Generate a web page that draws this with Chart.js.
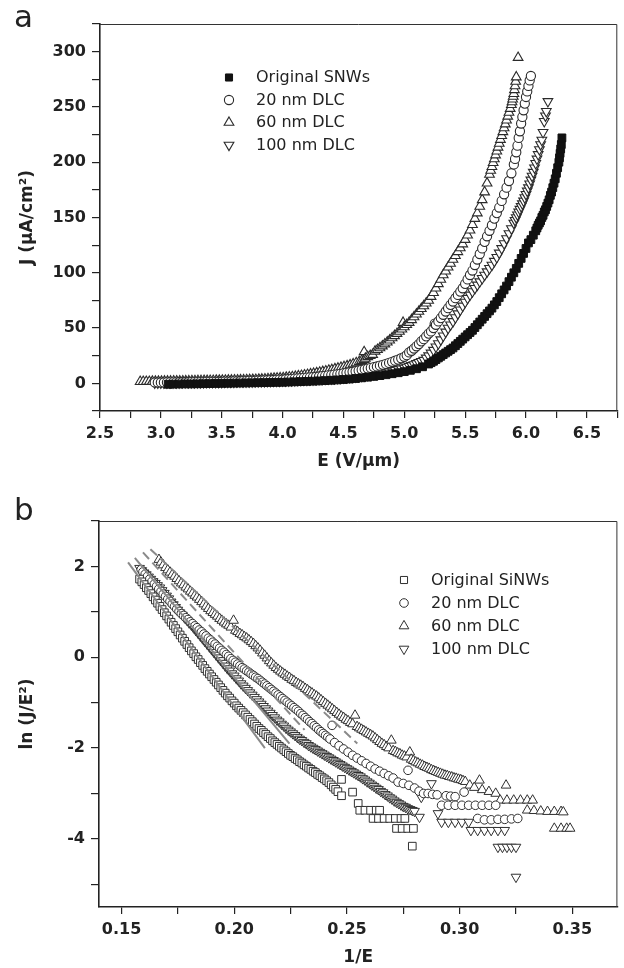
<!DOCTYPE html>
<html><head><meta charset="utf-8">
<script src="https://cdn.jsdelivr.net/npm/chart.js@4.4.1/dist/chart.umd.min.js"></script>
<style>
html,body{margin:0;padding:0;background:#fff;}
#wrap{position:relative;width:624px;height:968px;overflow:hidden;background:#fff;}
.panel{position:absolute;left:0;width:624px;height:484px;}
.lbl{position:absolute;font-family:"DejaVu Sans",sans-serif;font-size:31px;color:#222;line-height:1;}
</style></head><body>
<div id="wrap">
<div class="panel" style="top:0"><canvas id="ca" width="624" height="484"></canvas></div>
<div class="panel" style="top:484px"><canvas id="cb" width="624" height="484"></canvas></div>
<div class="lbl" style="left:14px;top:1px">a</div>
<div class="lbl" style="left:14px;top:494px">b</div>
</div>
<script>
// ================= Panel a : J (uA/cm2) vs E (V/um) =================
const seriesLabelsA = ['Original SNWs', '20 nm DLC', '60 nm DLC', '100 nm DLC'];

const aOrigE = [3.06,3.10,3.15,3.20,3.25,3.30,3.35,3.40,3.45,3.50,3.55,3.60,3.65,3.70,3.75,3.80,3.85,3.90,3.95,4.00,
  4.05,4.10,4.15,4.20,4.25,4.30,4.35,4.40,4.45,4.50,4.55,4.60,4.65,4.70,4.75,4.80,4.85,4.90,4.95,5.00,5.05,5.10,5.15,5.20,
  5.22,5.24,5.26,5.28,5.30,5.32,5.34,5.36,5.38,5.40,5.42,5.44,5.46,5.48,5.50,5.52,5.54,5.56,5.58,5.60,5.62,5.64,
  5.66,5.68,5.70,5.72,5.74,5.76,5.78,5.80,5.82,5.84,5.86,5.88,5.90,5.92,5.94,5.96,5.98,6.00,6.02,6.04,6.06,6.08,
  6.09,
  6.10,6.11,6.12,6.13,6.14,6.15,6.16,6.17,6.18,6.19,6.20,6.21,6.22,6.23,6.24,6.25,6.26,6.27,
  6.275,6.28,6.285,6.29,6.295];
const aOrigJ = [-0.8,-0.7,-0.6,-0.5,-0.5,-0.4,-0.3,-0.2,-0.1,0.0,0.1,0.2,0.3,0.4,0.5,0.6,0.7,0.8,0.9,1.0,
  1.2,1.4,1.6,1.8,2.0,2.2,2.5,2.8,3.1,3.5,3.9,4.4,5.0,5.6,6.3,7.0,7.8,8.7,9.6,10.6,11.8,13.2,15.0,17.5,
  18.7,20,21.5,23,24.5,26,27.5,29,30.5,32,34,36,38,40,42,44,46,48,50.5,53,55.5,58,
  60.5,63,65.5,68,71,74,77.5,81,84.5,88,92,96,100,104,108.5,113,117.5,122,127,130,134,138,
  140.5,
  143,145,147,150,152,155,157,160,163,166,170,173,177,181,185,190,195,200,
  204,208,212,216,222];

const a20E = [2.950,2.975,3.000,3.025,3.050,3.075,3.100,3.125,3.150,3.175,3.200,3.225,3.250,3.275,3.300,3.325,3.350,
  3.375,3.400,3.425,3.450,3.475,3.500,3.525,3.550,3.575,3.600,3.625,3.650,3.675,3.700,3.725,3.750,3.775,3.800,3.825,
  3.850,3.875,3.900,3.925,3.950,3.975,4.000,4.025,4.050,4.075,4.100,4.125,4.150,4.175,4.200,4.225,4.250,4.275,4.300,
  4.325,4.350,4.375,4.400,4.425,4.450,4.475,4.500,4.525,4.550,4.575,4.600,4.625,4.650,4.675,4.700,4.725,4.750,4.775,
  4.800,4.825,4.850,4.875,4.900,4.925,4.950,4.975,5.000,
  5.02,5.04,5.06,5.08,5.10,5.12,5.14,5.16,5.18,5.20,5.22,5.24,
  5.25,
  5.26,5.28,5.30,5.32,5.34,5.36,5.38,5.40,5.42,5.44,5.46,5.48,5.50,5.52,5.54,5.56,5.58,5.60,5.62,5.64,5.66,5.68,5.70,
  5.72,5.74,5.76,5.78,5.80,5.82,5.84,5.86,5.88,
  5.90,5.91,5.92,5.93,5.94,5.95,5.96,5.97,5.98,5.99,6.00,6.01,6.02,6.03,6.04];
const a20J = [0.8,0.8,0.8,0.8,0.9,0.9,0.9,0.9,1.0,1.0,1.0,1.0,1.1,1.1,1.2,1.2,1.2,
  1.3,1.3,1.4,1.4,1.5,1.5,1.6,1.6,1.7,1.8,1.8,1.9,2.0,2.1,2.2,2.3,2.4,2.5,2.6,
  2.7,2.8,3.0,3.1,3.2,3.4,3.5,3.7,3.9,4.1,4.3,4.5,4.7,5.0,5.2,5.5,5.7,6.0,6.2,
  6.5,6.8,7.2,7.5,7.9,8.2,8.6,9.0,9.5,10.0,10.5,11.0,11.6,12.2,12.8,13.4,14.0,14.7,15.3,
  16.0,16.8,17.6,18.5,19.5,20.5,21.5,22.7,24,
  25.5,28,29.5,31.5,33.5,35.5,38,40,42.5,45,47,50,
  54,
  53,56,59,62,65,68,71,74,77,80,83,86,90,94,98,102,107,112,117,122,128,133,138,
  143,149,154,159,165,171,177,183,190,
  198,203,209,215,222,228,235,241,247,253,259,264,269,274,278];

const a60E = [2.830,2.855,2.880,2.905,2.930,2.955,2.980,3.005,3.030,3.055,3.080,3.105,3.130,3.155,3.180,3.205,3.230,
  3.255,3.280,3.305,3.330,3.355,3.380,3.405,3.430,3.455,3.480,3.505,3.530,3.555,3.580,3.605,3.630,3.655,3.680,3.705,
  3.730,3.755,3.780,3.805,3.830,3.855,3.880,3.905,3.930,3.955,3.980,4.005,4.030,4.055,4.080,4.105,4.130,4.155,4.180,
  4.205,4.230,4.255,4.280,4.305,4.330,4.355,4.380,4.405,4.430,4.455,4.480,4.505,4.530,4.555,4.580,4.605,4.630,
  4.65,4.67,4.67,4.68,4.70,4.72,4.74,4.76,4.78,4.80,4.82,4.84,4.86,4.88,4.90,4.92,4.94,4.96,4.98,4.99,
  5.00,5.02,5.04,5.06,5.08,5.10,5.12,5.14,5.16,5.18,5.20,5.22,5.24,5.26,5.28,5.30,5.32,5.34,5.36,5.38,
  5.40,5.42,5.44,5.46,5.48,5.50,5.52,5.54,5.56,5.58,5.60,5.62,5.64,5.66,5.68,5.70,
  5.71,5.72,5.73,5.74,5.75,5.76,5.77,5.78,5.79,5.80,5.81,5.82,5.83,5.84,5.85,5.86,5.87,5.88,
  5.885,5.89,5.895,5.90,5.905,5.91,5.915,5.92,5.935];
const a60J = [1.5,1.5,1.6,1.6,1.7,1.7,1.8,1.8,1.9,1.9,1.9,2.0,2.0,2.0,2.0,2.1,2.1,
  2.2,2.2,2.3,2.3,2.4,2.4,2.5,2.5,2.6,2.6,2.7,2.7,2.8,2.8,2.9,2.9,3.0,3.0,3.1,
  3.2,3.3,3.4,3.5,3.7,3.8,4.0,4.2,4.4,4.6,4.8,5.0,5.3,5.6,5.9,6.2,6.6,7.0,7.4,
  7.9,8.4,8.9,9.4,9.9,10.5,11.1,11.7,12.3,13.0,13.6,14.3,15.0,15.7,16.6,17.5,18.5,19.5,
  20.5,21.5,28.5,22.5,24,25,26,29,30.5,32,33.7,35.5,37.2,39,41,43,45,47,49,55,
  51,53,55,57.5,60,62.5,65,67.5,70,72.5,75,78.5,82,86,90,94,98,101.5,105,108.5,
  112,115.5,119,122.5,126,130,134,138.5,143.5,149,154,160,166,173,181,189,
  192.5,196,199.5,203,206.5,210,213.5,217,220.5,224,227.5,231,234.5,238,241.5,245,248.5,252,
  254.5,257,259.5,262,265.5,269,273,277,294.6];

const a100E = [2.950,2.975,3.000,3.025,3.050,3.075,3.100,3.125,3.150,3.175,3.200,3.225,3.250,3.275,3.300,3.325,3.350,
  3.375,3.400,3.425,3.450,3.475,3.500,3.525,3.550,3.575,3.600,3.625,3.650,3.675,3.700,3.725,3.750,3.775,3.800,3.825,
  3.850,3.875,3.900,3.925,3.950,3.975,4.000,4.025,4.050,4.075,4.100,4.125,4.150,4.175,4.200,4.225,4.250,4.275,4.300,
  4.325,4.350,4.375,4.400,4.425,4.450,4.475,4.500,4.525,4.550,4.575,4.600,4.625,4.650,4.675,4.700,4.725,4.750,4.775,
  4.800,4.825,4.850,4.875,4.900,4.925,4.950,4.975,5.000,
  5.02,5.04,5.06,5.08,5.10,5.12,5.14,5.16,5.18,5.20,5.22,5.24,5.26,5.28,5.30,5.32,5.34,5.36,5.38,5.40,5.42,5.44,
  5.46,5.48,5.50,5.52,5.54,5.56,5.58,5.60,5.62,5.64,5.66,5.68,5.70,5.72,5.74,5.76,5.78,5.80,5.82,5.84,5.86,5.88,
  5.90,5.91,5.92,5.93,5.94,5.95,5.96,5.97,5.98,5.99,6.00,6.01,6.02,6.03,6.04,6.05,6.06,6.07,6.08,6.09,6.10,6.11,
  6.12,6.13,6.14,6.15,6.16,6.167,6.18];
const a100J = [0.5,0.5,0.5,0.5,0.5,0.6,0.6,0.6,0.6,0.7,0.7,0.7,0.7,0.8,0.8,0.8,0.8,
  0.9,0.9,1.0,1.0,1.0,1.0,1.1,1.1,1.2,1.2,1.3,1.3,1.4,1.4,1.5,1.5,1.6,1.6,1.7,
  1.7,1.8,1.9,2.0,2.0,2.1,2.2,2.3,2.4,2.5,2.6,2.7,2.8,2.9,3.0,3.2,3.3,3.5,3.6,
  3.8,3.9,4.1,4.2,4.4,4.6,4.8,5.0,5.3,5.5,5.8,6.0,6.3,6.6,7.0,7.3,7.6,8.0,8.5,
  9.0,9.5,10.0,10.6,11.2,11.9,12.6,13.3,14,
  14.7,15.5,16.2,17,18,19,20,21,23,25,27.5,30,33,36,39.5,43,46.5,50,53,56,59.5,63,
  66.5,70,73.5,77,80,83,86,89,92,95,98,101,104,107,110.5,114,118,122,126.5,131,135.5,140,
  145,147.5,150,152.5,155,157.5,160,162.5,165,168,171,174,177,180.5,184,187.5,191,195,199,203,207,211.5,
  216,220,227,237,242,246,255];

// ================= Panel b : ln(J/E^2) vs 1/E =================
const seriesLabelsB = ['Original SiNWs', '20 nm DLC', '60 nm DLC', '100 nm DLC'];

const bOrigX = [0.158,0.159,0.160,0.161,0.162,0.163,0.164,0.165,0.166,0.167,0.168,0.169,0.170,0.171,0.172,0.173,0.174,
  0.175,0.176,0.177,0.178,0.179,0.180,0.181,0.182,0.183,0.184,0.185,0.186,0.187,0.188,0.189,0.190,0.191,0.192,0.193,
  0.194,0.195,0.196,0.197,0.198,0.199,0.200,0.201,0.202,0.203,0.204,0.205,0.206,0.207,0.208,0.209,0.210,0.211,0.212,
  0.213,0.214,0.215,0.216,0.217,0.218,0.219,0.220,0.221,0.222,0.223,0.224,0.225,0.226,0.227,0.228,0.229,0.230,0.231,
  0.232,0.233,0.234,0.235,0.236,0.237,0.238,0.239,0.240,0.241,0.242,0.243,0.244,0.245,0.246,
  0.2476,0.2476,0.2525,0.255,0.2557,0.258,0.2605,0.263,0.2645,0.2616,0.264,0.2665,0.269,0.2715,0.274,0.2757,
  0.272,0.2745,0.277,0.2795,0.279];
const bOrigY = [1.72,1.66,1.60,1.53,1.47,1.40,1.33,1.26,1.19,1.12,1.05,0.98,0.91,0.84,0.77,0.70,0.63,
  0.56,0.49,0.42,0.35,0.28,0.21,0.14,0.08,0.01,-0.05,-0.12,-0.18,-0.25,-0.31,-0.37,-0.43,-0.49,-0.55,-0.61,
  -0.67,-0.73,-0.79,-0.85,-0.90,-0.96,-1.01,-1.07,-1.12,-1.17,-1.22,-1.27,-1.32,-1.37,-1.42,-1.47,-1.52,-1.57,-1.61,
  -1.66,-1.70,-1.75,-1.79,-1.84,-1.88,-1.92,-1.96,-2.00,-2.04,-2.08,-2.12,-2.16,-2.19,-2.23,-2.26,-2.30,-2.33,-2.37,
  -2.40,-2.44,-2.47,-2.51,-2.54,-2.58,-2.61,-2.65,-2.68,-2.72,-2.76,-2.81,-2.86,-2.91,-2.96,
  -3.05,-2.69,-2.97,-3.22,-3.37,-3.37,-3.37,-3.37,-3.37,-3.55,-3.55,-3.55,-3.55,-3.55,-3.55,-3.55,
  -3.77,-3.77,-3.77,-3.77,-4.16];

const b20X = [0.1587,
  0.1595,0.1605,0.1615,0.1625,0.1635,0.1645,0.1655,0.1665,0.1675,0.1685,0.1695,0.1705,0.1715,0.1725,0.1735,0.1745,
  0.1755,0.1765,0.1775,0.1785,0.1795,0.1805,0.1815,0.1825,0.1835,0.1845,0.1855,0.1865,0.1875,0.1885,0.1895,0.1905,
  0.1915,0.1925,0.1935,0.1945,0.1955,0.1965,0.1975,0.1985,0.1995,0.2005,0.2015,0.2025,0.2035,0.2045,0.2055,0.2065,
  0.2075,0.2085,0.2095,0.2105,0.2115,0.2125,0.2135,0.2145,0.2155,0.2165,0.2175,0.2185,0.2195,0.2205,0.2215,0.2225,
  0.2235,0.2245,0.2255,0.2265,0.2275,0.2285,0.2295,0.2305,0.2315,0.2325,0.2335,0.2345,0.2355,0.2365,0.2375,0.2385,
  0.2395,0.2405,0.2415,0.2425,
  0.2434,
  0.2445,0.2465,0.2485,0.2505,0.2525,0.2545,0.2565,0.2585,0.2605,0.2625,0.2645,0.2665,0.2685,0.2705,
  0.2727,0.2750,0.2771,0.2775,0.2800,0.2820,0.2840,0.2860,0.2880,0.2900,0.2940,0.2960,0.2980,
  0.2920,0.2950,0.2980,0.3020,0.3010,0.3040,0.3070,0.3100,0.3130,0.3160,
  0.3080,0.3110,0.3140,0.3170,0.3200,0.3230,0.3258];
const b20Y = [1.93,
  1.88,1.83,1.78,1.72,1.67,1.61,1.56,1.50,1.45,1.39,1.34,1.28,1.23,1.17,1.12,1.06,
  1.01,0.96,0.92,0.87,0.83,0.78,0.74,0.69,0.65,0.60,0.56,0.51,0.47,0.42,0.38,0.33,
  0.29,0.24,0.20,0.15,0.11,0.06,0.02,-0.03,-0.07,-0.11,-0.15,-0.19,-0.23,-0.26,-0.30,-0.33,
  -0.37,-0.40,-0.44,-0.47,-0.51,-0.55,-0.59,-0.63,-0.67,-0.71,-0.75,-0.79,-0.83,-0.87,-0.91,-0.95,
  -0.99,-1.03,-1.07,-1.11,-1.15,-1.19,-1.24,-1.28,-1.33,-1.37,-1.42,-1.46,-1.51,-1.55,-1.60,-1.64,
  -1.68,-1.72,-1.76,-1.80,
  -1.50,
  -1.88,-1.95,-2.02,-2.09,-2.16,-2.22,-2.28,-2.34,-2.40,-2.46,-2.51,-2.56,-2.61,-2.66,
  -2.75,-2.78,-2.49,-2.82,-2.88,-2.95,-3.00,-3.00,-3.02,-3.03,-3.05,-3.06,-3.07,
  -3.26,-3.26,-3.26,-2.97,-3.26,-3.26,-3.26,-3.26,-3.26,-3.26,
  -3.55,-3.58,-3.58,-3.57,-3.57,-3.56,-3.55];

const b60X = [0.1666,
  0.1675,0.1685,0.1695,0.1705,0.1715,0.1725,0.1735,0.1745,0.1755,0.1765,0.1775,0.1785,0.1795,0.1805,0.1815,0.1825,
  0.1835,0.1845,0.1855,0.1865,0.1875,0.1885,0.1895,0.1905,0.1915,0.1925,0.1935,0.1945,0.1955,0.1965,0.1975,0.1985,
  0.1997,
  0.2005,0.2015,0.2025,0.2035,0.2045,0.2055,0.2065,0.2075,0.2085,0.2095,0.2105,0.2115,0.2125,0.2135,0.2145,0.2155,
  0.2165,0.2175,0.2185,0.2195,0.2205,0.2215,0.2225,0.2235,0.2245,0.2255,0.2265,0.2275,0.2285,0.2295,0.2305,0.2315,
  0.2325,0.2335,0.2345,0.2355,0.2365,0.2375,0.2385,0.2395,0.2405,0.2415,0.2425,0.2435,0.2445,0.2455,0.2465,0.2475,
  0.2485,0.2495,0.2505,0.2515,0.2525,
  0.2536,
  0.2545,0.2555,0.2565,0.2575,0.2585,0.2595,0.2605,0.2615,0.2625,0.2635,0.2645,0.2655,0.2665,0.2675,0.2685,
  0.2697,
  0.2705,0.2715,0.2725,0.2735,0.2745,0.2755,0.2765,
  0.2779,
  0.2785,0.2795,0.2805,0.2815,0.2825,0.2835,0.2845,0.2855,0.2865,0.2875,0.2885,0.2895,0.2905,0.2915,0.2925,0.2935,
  0.2945,0.2955,0.2965,0.2975,0.2985,0.2995,0.3005,0.3015,0.3025,
  0.3045,0.3065,0.3088,0.3100,0.3130,0.3160,0.3206,0.3180,0.3210,0.3240,0.3270,0.3300,0.3324,
  0.3300,0.3330,0.3360,0.3390,0.3420,0.3450,0.3460,0.3420,0.3450,0.3475,0.3490];
const b60Y = [2.15,
  2.09,2.03,1.97,1.92,1.87,1.82,1.78,1.73,1.68,1.63,1.59,1.54,1.50,1.45,1.41,1.36,
  1.32,1.27,1.22,1.17,1.12,1.07,1.02,0.98,0.94,0.90,0.85,0.81,0.77,0.73,0.70,0.66,
  0.81,
  0.59,0.56,0.52,0.49,0.45,0.42,0.38,0.34,0.30,0.25,0.20,0.15,0.09,0.04,-0.02,-0.08,
  -0.13,-0.18,-0.23,-0.27,-0.31,-0.35,-0.38,-0.42,-0.45,-0.49,-0.52,-0.56,-0.59,-0.62,-0.65,-0.69,
  -0.72,-0.76,-0.79,-0.83,-0.86,-0.90,-0.94,-0.98,-1.02,-1.06,-1.10,-1.14,-1.18,-1.22,-1.26,-1.30,
  -1.33,-1.37,-1.40,-1.44,-1.47,
  -1.28,
  -1.53,-1.56,-1.59,-1.62,-1.65,-1.68,-1.71,-1.74,-1.78,-1.82,-1.86,-1.90,-1.93,-1.97,-2.00,
  -1.83,
  -2.06,-2.08,-2.11,-2.13,-2.16,-2.18,-2.20,
  -2.09,
  -2.25,-2.28,-2.31,-2.33,-2.36,-2.38,-2.41,-2.43,-2.45,-2.48,-2.50,-2.52,-2.54,-2.56,-2.58,-2.60,
  -2.61,-2.63,-2.64,-2.66,-2.67,-2.69,-2.70,-2.72,-2.74,
  -2.82,-2.87,-2.71,-2.92,-2.96,-3.00,-2.82,-3.15,-3.15,-3.15,-3.15,-3.15,-3.15,
  -3.37,-3.38,-3.39,-3.40,-3.40,-3.40,-3.41,-3.77,-3.77,-3.77,-3.77];

const b100X = [0.158,0.159,0.160,0.161,0.162,0.163,0.164,0.165,0.166,0.167,0.168,0.169,0.170,0.171,0.172,0.173,0.174,
  0.175,0.176,0.177,0.178,0.179,0.180,0.181,0.182,0.183,0.184,0.185,0.186,0.187,0.188,0.189,0.190,0.191,0.192,0.193,
  0.194,0.195,0.196,0.197,0.198,0.199,0.200,0.201,0.202,0.203,0.204,0.205,0.206,0.207,0.208,0.209,0.210,0.211,0.212,
  0.213,0.214,0.215,0.216,0.217,0.218,0.219,0.220,0.221,0.222,0.223,0.224,0.225,0.226,0.227,0.228,0.229,0.230,0.231,
  0.232,0.233,0.234,0.235,0.236,0.237,0.238,0.239,0.240,0.241,0.242,0.243,0.244,0.245,0.246,0.247,0.248,0.249,0.250,
  0.251,0.252,0.253,0.254,0.255,0.256,0.257,0.258,0.259,0.260,0.261,0.262,0.263,0.264,0.265,0.266,0.267,0.268,0.269,
  0.270,0.271,0.272,0.273,0.274,0.275,0.276,0.277,0.278,0.279,0.280,
  0.2822,0.2830,0.2875,0.2904,0.2920,0.2950,0.2980,0.3010,0.3040,0.3050,0.3080,0.3110,0.3140,0.3170,0.3200,
  0.3170,0.3190,0.3210,0.3230,0.3250,0.3250];
const b100Y = [1.96,1.91,1.86,1.82,1.77,1.72,1.67,1.63,1.58,1.53,1.47,1.41,1.35,1.29,1.22,1.16,1.10,
  1.04,0.98,0.93,0.87,0.82,0.76,0.71,0.65,0.59,0.53,0.47,0.41,0.35,0.29,0.23,0.17,0.11,0.05,-0.01,
  -0.07,-0.13,-0.19,-0.25,-0.30,-0.36,-0.41,-0.47,-0.52,-0.58,-0.63,-0.68,-0.73,-0.78,-0.83,-0.88,-0.93,-0.98,-1.03,
  -1.08,-1.13,-1.18,-1.23,-1.28,-1.33,-1.38,-1.42,-1.47,-1.51,-1.56,-1.60,-1.64,-1.68,-1.72,-1.76,-1.80,-1.83,-1.87,
  -1.90,-1.94,-1.97,-2.00,-2.03,-2.06,-2.09,-2.12,-2.15,-2.18,-2.21,-2.24,-2.27,-2.30,-2.33,-2.36,-2.39,-2.42,-2.45,
  -2.48,-2.51,-2.54,-2.57,-2.60,-2.63,-2.67,-2.70,-2.74,-2.77,-2.81,-2.84,-2.88,-2.91,-2.95,-2.98,-3.02,-3.05,-3.09,
  -3.12,-3.16,-3.19,-3.22,-3.25,-3.28,-3.30,-3.33,-3.35,-3.37,-3.39,
  -3.52,-3.08,-2.78,-3.44,-3.63,-3.63,-3.63,-3.63,-3.63,-3.81,-3.81,-3.81,-3.81,-3.81,-3.81,
  -4.18,-4.18,-4.18,-4.18,-4.18,-4.84];

// fitted straight lines (end points)
const fitOrigX = [0.1529, 0.2136], fitOrigY = [2.09, -2.00];
const fit100X  = [0.1559, 0.2245], fit100Y  = [2.19, -1.90];
const fit20X   = [0.1595, 0.2312], fit20Y   = [2.31, -1.60];
const fit60X   = [0.1628, 0.2546], fit60Y   = [2.38, -1.90];

// axis ranges
const aXRange = [2.5, 6.75], aYRange = [-25, 325];
const bXRange = [0.14, 0.37], bYRange = [-5.5, 3];

// ================= helpers =================
function pts(xs, ys){ const n=Math.min(xs.length, ys.length); const o=[]; for(let i=0;i<n;i++) o.push({x:xs[i], y:ys[i]}); return o; }
function isMult(v, s){ const q=v/s; return Math.abs(q-Math.round(q))<1e-6; }
const FF = '"DejaVu Sans", sans-serif';
const fontTick = {family:FF, size:16, weight:'bold'};
const fontTitle = {family:FF, size:17, weight:'bold'};
const INK = '#222';

function fallbackPoint(ctx, style, rot, r, x, y){
  ctx.beginPath();
  if(style==='rect'){ const s=Math.SQRT1_2*r; ctx.rect(x-s,y-s,2*s,2*s); }
  else if(style==='triangle'){ let a=(rot||0)*Math.PI/180; for(let k=0;k<3;k++){ const px=x+Math.sin(a)*r, py=y-Math.cos(a)*r; k?ctx.lineTo(px,py):ctx.moveTo(px,py); a+=2*Math.PI/3; } ctx.closePath(); }
  else { ctx.arc(x,y,r,0,2*Math.PI); }
  ctx.fill(); ctx.stroke();
}

const framePlugin = {
  id:'frame',
  afterDraw(chart){
    const {ctx, chartArea:a} = chart;
    ctx.save(); ctx.strokeStyle='#333'; ctx.lineWidth=1;
    ctx.beginPath(); ctx.moveTo(a.left, a.top+0.5); ctx.lineTo(a.right-0.5, a.top+0.5); ctx.lineTo(a.right-0.5, a.bottom); ctx.stroke();
    ctx.restore();
  }
};
const legendPlugin = {
  id:'inLegend',
  afterDraw(chart, args, opts){
    const ctx = chart.ctx; const H = (window.Chart && Chart.helpers) || null;
    let row = 0;
    chart.data.datasets.forEach(ds=>{
      if(ds.inLegend===false) return;
      const y = opts.y + row*opts.dy; row++;
      ctx.save();
      ctx.fillStyle = ds.backgroundColor; ctx.strokeStyle = ds.borderColor; ctx.lineWidth = ds.borderWidth;
      const r = ds.legendRadius || ds.pointRadius;
      if(H && H.drawPoint){ H.drawPoint(ctx, {pointStyle:ds.pointStyle, rotation:ds.pointRotation||0, radius:r, borderWidth:ds.borderWidth}, opts.x, y); }
      else fallbackPoint(ctx, ds.pointStyle, ds.pointRotation, r, opts.x, y);
      ctx.fillStyle = '#222'; ctx.font = '16px ' + FF; ctx.textBaseline='middle'; ctx.textAlign='left';
      ctx.fillText(ds.label, opts.textX, y+0.5);
      ctx.restore();
    });
  }
};

function axisX(range, step, labelStep, digits, height, titleText, titlePad){
  return {type:'linear', min:range[0], max:range[1],
    afterFit:s=>{s.height=height;},
    ticks:{stepSize:step, includeBounds:false, autoSkip:false, maxRotation:0, minRotation:0, padding:6, color:INK, font:fontTick,
      callback:v=>isMult(v,labelStep)?Number(v).toFixed(digits):''},
    grid:{drawOnChartArea:false, drawTicks:true, tickLength:7, color:INK, lineWidth:1.2},
    border:{display:true, color:INK, width:1.6},
    title:{display:true, text:titleText, font:fontTitle, color:INK, padding:{top:0,bottom:titlePad}}};
}
function axisY(range, step, labelStep, width, titleText){
  return {type:'linear', min:range[0], max:range[1],
    afterFit:s=>{s.width=width;},
    ticks:{stepSize:step, includeBounds:false, autoSkip:false, padding:6, color:INK, font:fontTick,
      callback:v=>isMult(v,labelStep)?String(Math.round(v)):''},
    grid:{drawOnChartArea:false, drawTicks:true, tickLength:8, color:INK, lineWidth:1.2},
    border:{display:true, color:INK, width:1.6},
    title:{display:true, text:titleText, font:fontTitle, color:INK, padding:{top:17,bottom:0}}};
}

// ================= chart a =================
const hollowA = {backgroundColor:'#fff', borderColor:'#2a2a2a', borderWidth:1.1};
new Chart(document.getElementById('ca'), {
  type:'scatter',
  data:{datasets:[
    {label:seriesLabelsA[0], data:pts(aOrigE,aOrigJ), pointStyle:'rect', pointRadius:5.5, legendRadius:5, backgroundColor:'#111', borderColor:'#111', borderWidth:1},
    Object.assign({label:seriesLabelsA[1], data:pts(a20E,a20J), pointStyle:'circle', pointRadius:4.6}, hollowA),
    Object.assign({label:seriesLabelsA[2], data:pts(a60E,a60J), pointStyle:'triangle', pointRadius:5.6}, hollowA),
    Object.assign({label:seriesLabelsA[3], data:pts(a100E,a100J), pointStyle:'triangle', pointRotation:180, pointRadius:5.6}, hollowA)
  ]},
  options:{responsive:false, animation:false, events:[],
    layout:{padding:{top:24, right:4, left:0, bottom:0}},
    plugins:{legend:{display:false}, tooltip:{enabled:false}, inLegend:{x:229, y:77.5, dy:22.5, textX:256}},
    scales:{x:axisX(aXRange,0.25,0.5,1,73,'E (V/μm)',12), y:axisY(aYRange,25,50,100,'J (μA/cm²)')}
  },
  plugins:[framePlugin, legendPlugin]
});

// ================= chart b =================
const lineStyle = {showLine:true, pointRadius:0, borderColor:'#8a8a8a', borderWidth:2, backgroundColor:'#8a8a8a', inLegend:false, fill:false};
const hollowB = {backgroundColor:'#fff', borderColor:'#303030', borderWidth:1};
new Chart(document.getElementById('cb'), {
  type:'scatter',
  data:{datasets:[
    Object.assign({label:'fit Original', data:pts(fitOrigX,fitOrigY)}, lineStyle),
    Object.assign({label:'fit 100 nm', data:pts(fit100X,fit100Y)}, lineStyle),
    Object.assign({label:'fit 20 nm', data:pts(fit20X,fit20Y), borderDash:[9,5]}, lineStyle),
    Object.assign({label:'fit 60 nm', data:pts(fit60X,fit60Y), borderDash:[9,5]}, lineStyle),
    Object.assign({label:seriesLabelsB[0], data:pts(bOrigX,bOrigY), pointStyle:'rect', pointRadius:5.4, legendRadius:5}, hollowB),
    Object.assign({label:seriesLabelsB[1], data:pts(b20X,b20Y), pointStyle:'circle', pointRadius:4.3}, hollowB),
    Object.assign({label:seriesLabelsB[2], data:pts(b60X,b60Y), pointStyle:'triangle', pointRadius:5.6}, hollowB),
    Object.assign({label:seriesLabelsB[3], data:pts(b100X,b100Y), pointStyle:'triangle', pointRotation:180, pointRadius:5.6}, hollowB)
  ]},
  options:{responsive:false, animation:false, events:[],
    layout:{padding:{top:37, right:4, left:0, bottom:0}},
    plugins:{legend:{display:false}, tooltip:{enabled:false}, inLegend:{x:404, y:96, dy:23, textX:431}},
    scales:{x:axisX(bXRange,0.025,0.05,2,61,'1/E',0), y:axisY(bYRange,1,2,99,'ln (J/E²)')}
  },
  plugins:[framePlugin, legendPlugin]
});
</script>
</body></html>
